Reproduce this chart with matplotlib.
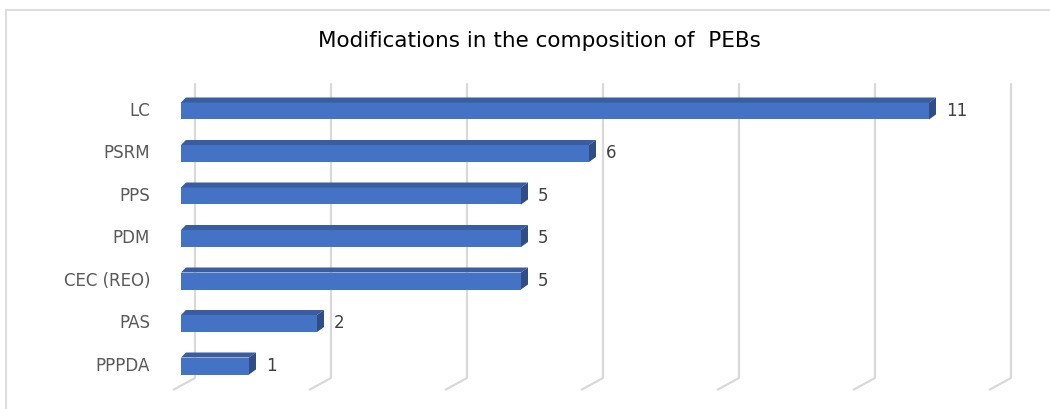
import matplotlib.pyplot as plt
from matplotlib.patches import Polygon, Rectangle

# data (top to bottom)
categories = ["LC", "PSRM", "PPS", "PDM", "CEC (REO)", "PAS", "PPPDA"]
values = [11, 6, 5, 5, 5, 2, 1]
grid_ticks = [0, 2, 4, 6, 8, 10, 12]
title = "Modifications in the composition of  PEBs"

W, H = 1050, 409
fig = plt.figure(figsize=(W / 100, H / 100), dpi=100)

# axes placement in pixels: x=0 -> 181px, x=12 -> 997px ; row 0 -> 111px, row step 42.5px
x0_px, unit_px = 181, 68.0
row0_px, row_px = 111, 42.5
top_px, bot_px = 60, 400
ax = fig.add_axes([x0_px / W, 1 - bot_px / H, 12 * unit_px / W, (bot_px - top_px) / H])
ax.set_xlim(0, 12)
ax.set_ylim((bot_px - row0_px) / row_px, (top_px - row0_px) / row_px)
ax.axis("off")

def px(dx, dy):
    # pixel offsets -> data offsets (dy positive = down)
    return dx / unit_px, dy / row_px

# perspective gridlines (back wall + floor)
grid_col = "#d9d9d9"
gtop, gbot, gfloor = px(0, 83 - row0_px)[1], px(0, 378 - row0_px)[1], px(0, 390 - row0_px)[1]
bx, fx = px(14, 0)[0], px(-8, 0)[0]
for t in grid_ticks:
    ax.plot([t + bx, t + bx, t + fx], [gtop, gbot, gfloor], color=grid_col, lw=1.6,
            clip_on=False, zorder=1, solid_capstyle="butt")

# bars with a small 3D top and side face
front_col, top_col, side_col = "#4472c4", "#3a5d9f", "#2f4e88"
bh = 17 / row_px
ox, oy = px(7, -5)
for i, v in enumerate(values):
    y_top, y_bot = i - bh / 2, i + bh / 2
    ax.barh(i, v, height=bh, color=front_col, zorder=3)
    ax.add_patch(Polygon([(0, y_top), (v, y_top), (v + ox, y_top + oy), (ox * 0.7, y_top + oy)],
                         closed=True, fc=top_col, ec="none", zorder=3))
    ax.add_patch(Polygon([(v, y_top), (v + ox, y_top + oy), (v + ox, y_bot + oy), (v, y_bot)],
                         closed=True, fc=side_col, ec="none", zorder=3))
    ax.text(v + px(17, 0)[0], i, str(v), va="center", ha="left", fontsize=12,
            color="#404040", zorder=4)
    ax.text(-px(31, 0)[0], i, categories[i], va="center", ha="right", fontsize=12,
            color="#595959")

fig.text(539 / W, 1 - 41 / H, title, ha="center", va="center", fontsize=15.5, color="#000000")

# chart frame
fig.patches.append(Rectangle((6 / W, -0.05), 1.1, 1 - 10 / H + 0.05, transform=fig.transFigure,
                             fill=False, ec="#dedede", lw=1.5))

fig.savefig("out.png", dpi=100)
